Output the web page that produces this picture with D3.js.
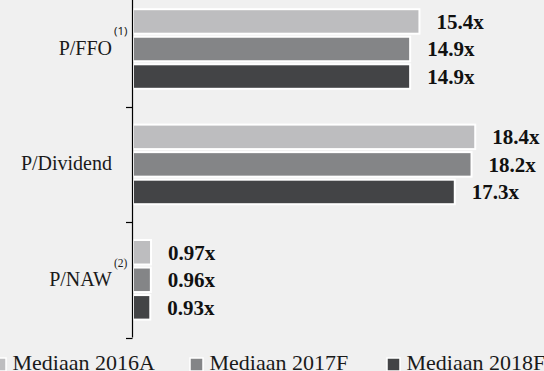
<!DOCTYPE html>
<html>
<head>
<meta charset="utf-8">
<script src="https://cdn.jsdelivr.net/npm/d3@7/dist/d3.min.js"></script>
<style>
  html, body { margin: 0; padding: 0; background: #f0f0f0; }
  svg { display: block; }
</style>
</head>
<body>
<svg id="chart" width="544" height="371"></svg>
<script>
// Valuation multiples, median per year
const categories = ["P/FFO", "P/Dividend", "P/NAW"];
const footnotes = ["(1)", "", "(2)"];
const seriesNames = ["Mediaan 2016A", "Mediaan 2017F", "Mediaan 2018F"];
const values2016A = [15.4, 18.4, 0.97];
const values2017F = [14.9, 18.2, 0.96];
const values2018F = [14.9, 17.3, 0.93];
const seriesColors = ["#bdbdbf", "#848587", "#434446"];

const seriesValues = [values2016A, values2017F, values2018F];
const rows = categories.map((c, i) => ({
  category: c,
  footnote: footnotes[i],
  values: seriesNames.map((s, j) => ({ series: s, value: seriesValues[j][i] }))
}));

const svg = d3.select("#chart");
const serif = "'Liberation Serif', 'Times New Roman', serif";

const x = d3.scaleLinear().domain([0, 20]).range([133, 505]);
const y = d3.scaleBand().domain(categories).range([-8.7, 337.5]);
const yInner = d3.scaleBand().domain(seriesNames)
  .range([0, y.bandwidth()]).paddingInner(0.11).paddingOuter(0.65);
const color = d3.scaleOrdinal().domain(seriesNames).range(seriesColors);

const fmt = v => (v < 1 ? d3.format(".2f")(v) : d3.format(".1f")(v)) + "x";

// Bars
const groups = svg.append("g").selectAll("g").data(rows).join("g")
  .attr("transform", d => `translate(0,${y(d.category)})`);

groups.selectAll("rect").data(d => d.values).join("rect")
  .attr("x", x(0))
  .attr("y", d => yInner(d.series))
  .attr("width", d => x(d.value) - x(0))
  .attr("height", yInner.bandwidth())
  .attr("fill", d => color(d.series))
  .attr("stroke", "#ffffff")
  .attr("stroke-width", 2);

groups.selectAll("text.val").data(d => d.values).join("text")
  .attr("class", "val")
  .attr("x", d => x(d.value) + 17)
  .attr("y", d => yInner(d.series) + yInner.bandwidth() / 2 + 7.5)
  .attr("font-family", serif)
  .attr("font-weight", "bold")
  .attr("font-size", 21)
  .attr("fill", "#111")
  .text(d => fmt(d.value));

// Vertical axis with ticks on group boundaries
const axisX = 132.5;
const axis = svg.append("g");
axis.append("line")
  .attr("x1", axisX).attr("x2", axisX)
  .attr("y1", y.range()[0]).attr("y2", y.range()[1])
  .attr("stroke", "#000").attr("stroke-width", 1.2);
axis.selectAll("line.tick").data(categories).join("line")
  .attr("class", "tick")
  .attr("x1", axisX - 6.5).attr("x2", axisX)
  .attr("y1", d => Math.round(y(d) + y.bandwidth()) + 0.5)
  .attr("y2", d => Math.round(y(d) + y.bandwidth()) + 0.5)
  .attr("stroke", "#000").attr("stroke-width", 1.2);

// Category labels with footnote markers
const labelX = 112;
const labels = svg.append("g").selectAll("g").data(rows).join("g");
labels.append("text")
  .attr("x", labelX)
  .attr("y", d => y(d.category) + y.bandwidth() / 2 + 6)
  .attr("text-anchor", "end")
  .attr("font-family", serif)
  .attr("font-size", 20)
  .attr("fill", "#1a1a1a")
  .text(d => d.category);
labels.filter(d => d.footnote).append("text")
  .attr("x", labelX + 2)
  .attr("y", d => y(d.category) + y.bandwidth() / 2 + (d.footnote === "(1)" ? -14 : -13))
  .attr("font-family", d => d.footnote === "(1)" ? "'Noto Sans', sans-serif" : serif)
  .attr("font-size", 11.5)
  .attr("fill", "#1a1a1a")
  .text(d => d.footnote);

// Legend
const legend = svg.append("g").selectAll("g").data(seriesNames).join("g")
  .attr("transform", (d, i) => `translate(${-7 + i * 197},0)`);
legend.append("rect")
  .attr("x", 0).attr("y", 358)
  .attr("width", 13).attr("height", 13)
  .attr("fill", d => color(d))
  .attr("stroke", "#ffffff").attr("stroke-width", 1.5);
legend.append("text")
  .attr("x", 19.5)
  .attr("y", 370)
  .attr("font-family", serif)
  .attr("font-size", 22)
  .attr("fill", "#1a1a1a")
  .text(d => d);
</script>
</body>
</html>
